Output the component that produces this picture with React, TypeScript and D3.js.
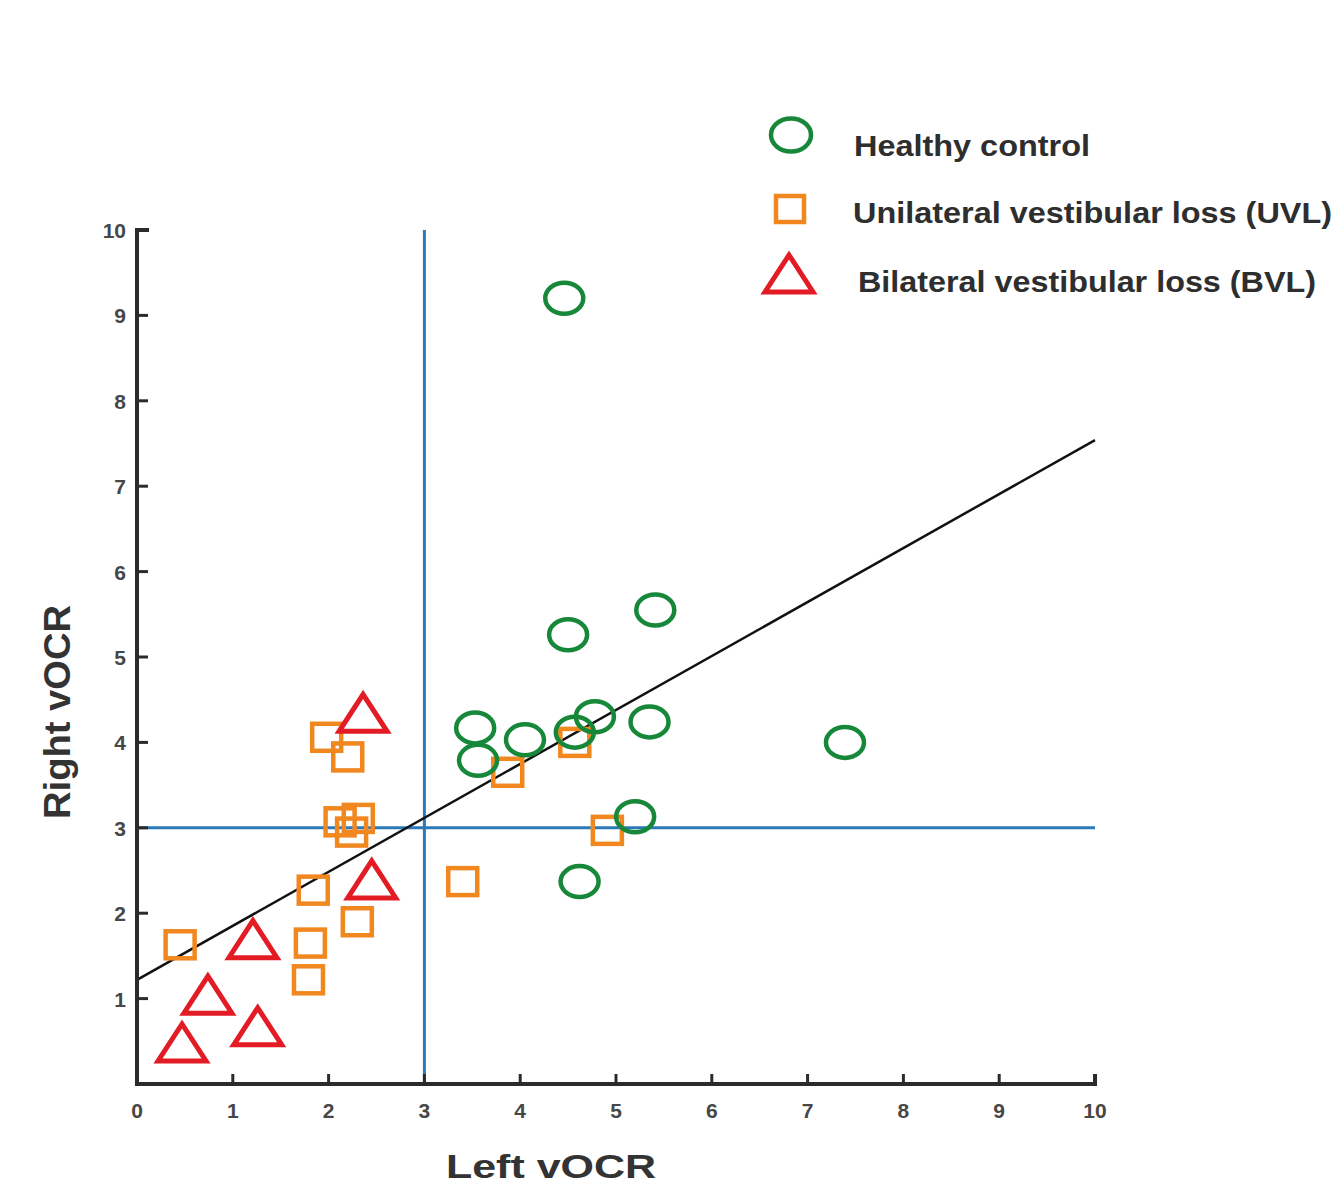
import { useEffect, useRef } from "react";
import * as d3 from "d3";

// Healthy control (x = left vOCR, y = right vOCR)
const healthyX = [4.46, 5.41, 4.5, 3.53, 3.56, 4.05, 4.57, 4.78, 5.35, 7.39, 5.2, 4.62];
const healthyY = [9.2, 5.55, 5.26, 4.17, 3.79, 4.03, 4.12, 4.3, 4.24, 4.0, 3.13, 2.37];

// Unilateral vestibular loss
const uvlX = [1.98, 2.2, 2.12, 2.31, 2.24, 1.84, 2.3, 1.81, 1.79, 0.45, 3.4, 3.87, 4.57, 4.91];
const uvlY = [4.06, 3.83, 3.07, 3.11, 2.95, 2.27, 1.9, 1.65, 1.22, 1.63, 2.37, 3.65, 4.0, 2.97];

// Bilateral vestibular loss
const bvlX = [2.36, 2.45, 1.21, 0.74, 1.26, 0.47];
const bvlY = [4.34, 2.39, 1.69, 1.04, 0.67, 0.48];

const ticks = [1, 2, 3, 4, 5, 6, 7, 8, 9, 10];
const xTickLabels = ["0", "1", "2", "3", "4", "5", "6", "7", "8", "9", "10"];
const yTickLabels = ["1", "2", "3", "4", "5", "6", "7", "8", "9", "10"];
const cutoff = 3;
const fitIntercept = 1.22;
const fitSlope = 0.632;

const legendLabels = [
  "Healthy control",
  "Unilateral vestibular loss (UVL)",
  "Bilateral vestibular loss (BVL)",
];

const GREEN = "#17883a";
const ORANGE = "#f0871f";
const RED = "#e31b25";
const BLUE = "#2a7ab9";
const FONT = "Liberation Sans, Arial, sans-serif";

export default function App() {
  const svgRef = useRef<SVGSVGElement>(null);

  useEffect(() => {
    const el = svgRef.current;
    if (!el) return;
    const svg = d3.select(el);
    svg.selectAll("*").remove();

    const xs = d3.scaleLinear().domain([0, 10]).range([137, 1095]);
    const ys = d3.scaleLinear().domain([0, 10]).range([1084, 230]);

    // Reference lines
    svg
      .append("line")
      .attr("x1", xs(cutoff))
      .attr("x2", xs(cutoff))
      .attr("y1", ys(10))
      .attr("y2", ys(0))
      .attr("stroke", BLUE)
      .attr("stroke-width", 3);
    svg
      .append("line")
      .attr("x1", xs(0))
      .attr("x2", xs(10))
      .attr("y1", ys(cutoff))
      .attr("y2", ys(cutoff))
      .attr("stroke", BLUE)
      .attr("stroke-width", 3);

    // Regression line
    svg
      .append("line")
      .attr("x1", xs(0))
      .attr("y1", ys(fitIntercept))
      .attr("x2", xs(10))
      .attr("y2", ys(fitIntercept + fitSlope * 10))
      .attr("stroke", "#111")
      .attr("stroke-width", 2.5);

    // Axes
    const axisG = svg.append("g");
    axisG
      .append("path")
      .attr(
        "d",
        `M${xs(0) + 12},${ys(10)}H${xs(0)}V${ys(0)}H${xs(10)}V${ys(0) - 10}`,
      )
      .attr("fill", "none")
      .attr("stroke", "#2b2b2b")
      .attr("stroke-width", 4);
    axisG
      .selectAll(".yt")
      .data(ticks.slice(0, -1))
      .enter()
      .append("line")
      .attr("x1", xs(0))
      .attr("x2", xs(0) + 11)
      .attr("y1", (d) => ys(d))
      .attr("y2", (d) => ys(d))
      .attr("stroke", "#2b2b2b")
      .attr("stroke-width", 3);
    axisG
      .selectAll(".xt")
      .data(ticks.slice(0, -1))
      .enter()
      .append("line")
      .attr("x1", (d) => xs(d))
      .attr("x2", (d) => xs(d))
      .attr("y1", ys(0))
      .attr("y2", ys(0) - 10)
      .attr("stroke", "#2b2b2b")
      .attr("stroke-width", 3);

    // Tick labels
    axisG
      .selectAll(".xl")
      .data(xTickLabels)
      .enter()
      .append("text")
      .attr("x", (_d, i) => xs(i))
      .attr("y", ys(0) + 34)
      .attr("text-anchor", "middle")
      .attr("fill", "#474747")
      .style("font-family", FONT)
      .style("font-weight", "bold")
      .style("font-size", "21px")
      .text((d) => d);
    axisG
      .selectAll(".yl")
      .data(yTickLabels)
      .enter()
      .append("text")
      .attr("x", xs(0) - 11)
      .attr("y", (_d, i) => ys(i + 1) + 8)
      .attr("text-anchor", "end")
      .attr("fill", "#474747")
      .style("font-family", FONT)
      .style("font-weight", "bold")
      .style("font-size", "21px")
      .text((d) => d);

    // Axis titles
    svg
      .append("text")
      .attr("x", 551)
      .attr("y", 1178)
      .attr("text-anchor", "middle")
      .attr("fill", "#333")
      .attr("textLength", 210)
      .attr("lengthAdjust", "spacingAndGlyphs")
      .style("font-family", FONT)
      .style("font-weight", "bold")
      .style("font-size", "34px")
      .text("Left vOCR");
    svg
      .append("text")
      .attr("transform", "translate(70,712) rotate(-90)")
      .attr("text-anchor", "middle")
      .attr("fill", "#333")
      .attr("textLength", 214)
      .attr("lengthAdjust", "spacingAndGlyphs")
      .style("font-family", FONT)
      .style("font-weight", "bold")
      .style("font-size", "36px")
      .text("Right vOCR");

    // Markers
    const circle = (g: any, cx: number, cy: number) =>
      g
        .append("ellipse")
        .attr("cx", cx)
        .attr("cy", cy)
        .attr("rx", 19)
        .attr("ry", 15.5)
        .attr("fill", "none")
        .attr("stroke", GREEN)
        .attr("stroke-width", 4.5);
    const square = (g: any, cx: number, cy: number, s = 29) =>
      g
        .append("rect")
        .attr("x", cx - s / 2)
        .attr("y", cy - (s - 2) / 2)
        .attr("width", s)
        .attr("height", s - 2)
        .attr("fill", "none")
        .attr("stroke", ORANGE)
        .attr("stroke-width", 4.5);
    const tri = (g: any, cx: number, cy: number) =>
      g
        .append("path")
        .attr(
          "d",
          `M${cx},${cy - 19}L${cx + 24},${cy + 18}L${cx - 24},${cy + 18}Z`,
        )
        .attr("fill", "none")
        .attr("stroke", RED)
        .attr("stroke-width", 5)
        .attr("stroke-linejoin", "miter");

    const marks = svg.append("g");
    uvlX.forEach((x, i) => square(marks, xs(x), ys(uvlY[i])));
    bvlX.forEach((x, i) => tri(marks, xs(x), ys(bvlY[i])));
    healthyX.forEach((x, i) => circle(marks, xs(x), ys(healthyY[i])));

    // Legend
    const lg = svg.append("g");
    circle(lg, 791, 135).attr("rx", 20).attr("ry", 16.5);
    square(lg, 790, 209, 28);
    tri(lg, 789, 274);
    const legendPos = [
      [854, 156],
      [853, 223],
      [858, 292],
    ];
    const legendLen = [236, 479, 458];
    lg.selectAll("text")
      .data(legendLabels)
      .enter()
      .append("text")
      .attr("x", (_d, i) => legendPos[i][0])
      .attr("y", (_d, i) => legendPos[i][1])
      .attr("fill", "#2e2e2e")
      .attr("textLength", (_d, i) => legendLen[i])
      .attr("lengthAdjust", "spacingAndGlyphs")
      .style("font-family", FONT)
      .style("font-weight", "bold")
      .style("font-size", "30px")
      .text((d) => d);
  }, []);

  return (
    <svg
      ref={svgRef}
      width={1337}
      height={1188}
      style={{ position: "absolute", left: 0, top: 0, background: "#fff" }}
    />
  );
}
